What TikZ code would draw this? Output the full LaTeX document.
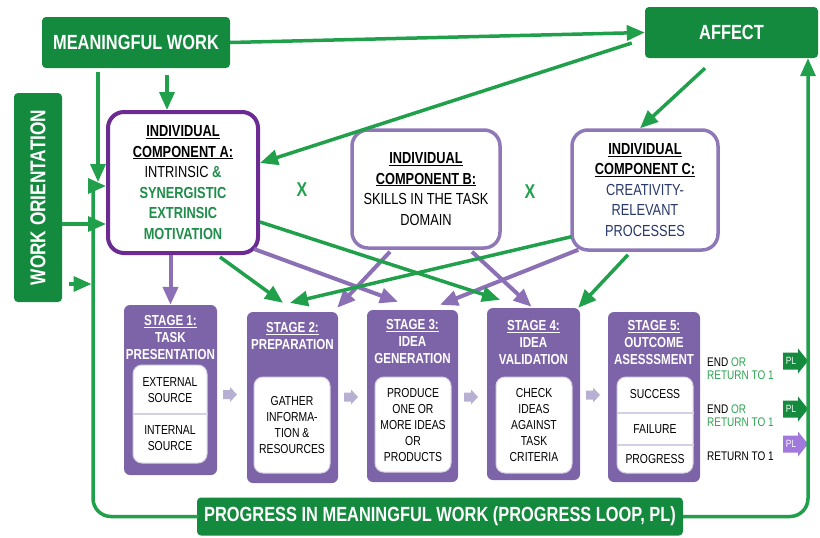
\documentclass[tikz,border=0pt]{standalone}
\usepackage{fontspec}
\setmainfont{Liberation Sans}[FakeStretch=0.8]
\usetikzlibrary{arrows.meta,calc}
\definecolor{dkgreen}{HTML}{148A3E}
\definecolor{lngreen}{HTML}{21A04B}
\definecolor{stpurple}{HTML}{7D64A8}
\definecolor{arrpurple}{HTML}{8B70B5}
\definecolor{apurple}{HTML}{6B2B93}
\definecolor{bpurple}{HTML}{8F78B8}
\definecolor{ltarrow}{HTML}{B8B0D2}
\definecolor{navy}{HTML}{27386A}
\definecolor{txgreen}{HTML}{1F8E4A}
\definecolor{rgreen}{HTML}{2EA552}
\definecolor{plpurple}{HTML}{A178DC}
\definecolor{divcol}{HTML}{D6D0E4}
\newcommand\ulx[1]{\leavevmode\setbox0=\hbox{#1}\rlap{\rule[-2.2pt]{\wd0}{1.1pt}}\box0}
\begin{document}
\begin{tikzpicture}[x=1pt,y=-1pt,
  gbox/.style={fill=dkgreen, rounded corners=4pt, text=white, inner sep=0pt,
    font=\bfseries\fontsize{20.5}{22}\selectfont},
  comp/.style={fill=white, rounded corners=16pt, align=center, inner sep=0pt,
    font=\fontsize{16}{20.5}\selectfont},
  stagebox/.style={fill=stpurple, rounded corners=6pt, inner sep=0pt},
  sttitle/.style={text=white, align=center, inner sep=0pt, font=\bfseries\fontsize{14.5}{17}\selectfont},
  innerbox/.style={fill=white, draw=divcol, line width=1pt, rounded corners=9pt, inner sep=0pt},
  intext/.style={align=center, inner sep=0pt, font=\fontsize{13}{16}\selectfont},
  rtext/.style={align=left, inner sep=0pt, anchor=west, font=\fontsize{12.5}{13.5}\selectfont},
  divider/.style={draw=divcol, line width=2.5pt},
  pltext/.style={text=white, inner sep=0pt, font=\fontsize{10.5}{10.5}\selectfont},
  gline/.style={draw=lngreen, line width=3.5pt, line cap=rect},
  garrow/.style={draw=lngreen, line width=3.5pt, -{Triangle[length=18pt,width=15pt]}},
  parrow/.style={draw=arrpurple, line width=4pt, -{Triangle[length=18pt,width=15pt]}},
  xmark/.style={text=lngreen, font=\bfseries\fontsize{20}{20}\selectfont}
]
\useasboundingbox (0,0) rectangle (820,538);

% top green boxes
\node[gbox, minimum width=188, minimum height=51] (mw) at (136,42.5) {MEANINGFUL WORK};
\node[gbox, minimum width=173, minimum height=51] (affect) at (731.5,32.5) {AFFECT};
\node[gbox, minimum width=48, minimum height=209, font=\bfseries\fontsize{21.5}{22}\selectfont] (wo) at (38,197.5) {\rotatebox{90}{WORK ORIENTATION}};
\node[gbox, minimum width=486, minimum height=38] (prog) at (440,516.5) {PROGRESS IN MEANINGFUL WORK (PROGRESS LOOP, PL)};

% components
\node[comp, draw=apurple, line width=4pt, minimum width=150, minimum height=141] (compA) at (183,182.5)
  {\textbf{\ulx{INDIVIDUAL}}\\\textbf{\ulx{COMPONENT A:}}\\INTRINSIC \textcolor{txgreen}{\textbf{\&}}\\
   \textcolor{txgreen}{\textbf{SYNERGISTIC}}\\\textcolor{txgreen}{\textbf{EXTRINSIC}}\\\textcolor{txgreen}{\textbf{MOTIVATION}}};
\node[comp, draw=bpurple, line width=3.5pt, minimum width=148, minimum height=118] (compB) at (426,189)
  {\textbf{\ulx{INDIVIDUAL}}\\\textbf{\ulx{COMPONENT B:}}\\SKILLS IN THE TASK\\DOMAIN};
\node[comp, draw=bpurple, line width=3.5pt, minimum width=146, minimum height=120] (compC) at (645,190)
  {\textbf{\ulx{INDIVIDUAL}}\\\textbf{\ulx{COMPONENT C:}}\\\textcolor{navy}{CREATIVITY-}\\\textcolor{navy}{RELEVANT}\\\textcolor{navy}{PROCESSES}};
\node[xmark] (x1) at (302,190) {X};
\node[xmark] (x2) at (530,192) {X};

% stages
\node[stagebox, minimum width=93, minimum height=170] (s1) at (170.5,390) {};
\node[stagebox, minimum width=91, minimum height=171] (s2) at (292.5,397.5) {};
\node[stagebox, minimum width=91, minimum height=172] (s3) at (412.5,396) {};
\node[stagebox, minimum width=93, minimum height=172] (s4) at (533.5,394) {};
\node[stagebox, minimum width=92, minimum height=170] (s5) at (654,397) {};

\node[sttitle] (t1) at (170.5,338) {\ulx{STAGE 1:}\\TASK\\PRESENTATION};
\node[sttitle] (t2) at (292.5,336.5) {\ulx{STAGE 2:}\\PREPARATION};
\node[sttitle] (t3) at (412.5,342) {\ulx{STAGE 3:}\\IDEA\\GENERATION};
\node[sttitle] (t4) at (533.5,342.5) {\ulx{STAGE 4:}\\IDEA\\VALIDATION};
\node[sttitle] (t5) at (654,342.5) {\ulx{STAGE 5:}\\OUTCOME\\ASESSSMENT};

\node[innerbox, minimum width=74, minimum height=98] (i1) at (170,414) {};
\node[innerbox, minimum width=76, minimum height=96] (i2) at (292,425) {};
\node[innerbox, minimum width=76, minimum height=95] (i3) at (413,424.5) {};
\node[innerbox, minimum width=76, minimum height=96] (i4) at (534,425) {};
\node[innerbox, minimum width=76, minimum height=96] (i5) at (655,425) {};
\draw[divider] (i1.west |- 0,414) -- (i1.east |- 0,414);
\draw[divider] (i5.west |- 0,413) -- (i5.east |- 0,413);
\draw[divider] (i5.west |- 0,445) -- (i5.east |- 0,445);

\node[intext] (e1) at (170,390.5) {EXTERNAL\\SOURCE};
\node[intext] (e2) at (170,438) {INTERNAL\\SOURCE};
\node[intext] (e3) at (292,425.5) {GATHER\\INFORMA-\\TION \&\\RESOURCES};
\node[intext] (e4) at (413,425) {PRODUCE\\ONE OR\\MORE IDEAS\\OR\\PRODUCTS};
\node[intext] (e5) at (534,425) {CHECK\\IDEAS\\AGAINST\\TASK\\CRITERIA};
\node[intext] (e6) at (655,394) {SUCCESS};
\node[intext] (e7) at (655,429) {FAILURE};
\node[intext] (e8) at (655,459) {PROGRESS};

% small block arrows between stages
\foreach \cx/\cy in {230/394.5, 351/397, 471/397, 593/395}
  \fill[ltarrow, shift={(\cx,\cy)}] (-7,-4.5) -- (0,-4.5) -- (0,-7.5) -- (7,0) -- (0,7.5) -- (0,4.5) -- (-7,4.5) -- cycle;

% right side
\node[rtext] (r1) at (707,368.5) {END \textcolor{rgreen}{OR}\\\textcolor{rgreen}{RETURN TO 1}};
\node[rtext] (r2) at (707,415.5) {END \textcolor{rgreen}{OR}\\\textcolor{rgreen}{RETURN TO 1}};
\node[rtext] (r3) at (707,456) {RETURN TO 1};
\foreach \cy/\col in {361/dkgreen, 409/dkgreen, 444/plpurple}
  \fill[\col, shift={(783,\cy)}] (0,-8.5) -- (15,-8.5) -- (15,-12.5) -- (25,0) -- (15,12.5) -- (15,8.5) -- (0,8.5) -- cycle;
\node[pltext] (pl1) at (791,361) {PL};
\node[pltext] (pl2) at (791,409) {PL};
\node[pltext] (pl3) at (791,444) {PL};

% connectors: top
\draw[garrow] (mw.east) -- (affect.west);
\draw[garrow, shorten <=7pt] ($(mw.south)+(31,0)$) -- ($(compA.north)+(-16,0)$);
\coordinate (mwtip) at (98,182);
\draw[garrow, shorten <=4pt] (mw.south -| mwtip) -- (mwtip);
\coordinate (loopTL) at (93,186);
\draw[gline, rounded corners=18pt] (prog.west) -| (loopTL);
\draw[garrow] (loopTL) -- (loopTL -| compA.west);
\draw[garrow, rounded corners=18pt] (prog.east) -| ($(affect.south)+(76.5,0)$);
\coordinate (wo1) at ($(wo.east)+(0,26.5)$);
\draw[garrow] (wo1) -- (wo1 -| compA.west);
\coordinate (wo2) at ($(wo.east)+(7,86.5)$);
\draw[garrow, shorten >=1.5pt] (wo2) -- (wo2 -| loopTL);
\draw[garrow] ($(affect.west)+(-13,10.5)$) -- ($(compA.east)+(0,-19.5)$);
\draw[garrow] ($(affect.south)+(-26.5,10)$) -- ($(compC.north)+(-5,0)$);

% connectors: components to stages
\draw[parrow] (s1.north |- compA.south) -- (s1.north);
\draw[parrow] ($(compA.south east)+(-6,-6)$) -- ($(s3.north)+(-14.5,-8)$);
\draw[parrow] ($(compB.south)+(-36,2)$) -- ($(s2.north east)+(-1,-4)$);
\draw[parrow] ($(compB.south)+(46,2)$) -- ($(s4.north)+(-2,-1)$);
\draw[parrow] ($(compC.south west)+(8,-2)$) -- ($(s3.north)+(27.5,-5)$);
\draw[garrow] ($(compA.south)+(37,2)$) -- ($(s2.north)+(-9.5,-9)$);
\draw[garrow] ($(compA.east)+(0,39.5)$) -- ($(s4.north)+(-33.5,-8)$);
\draw[garrow] ($(compC.south west)+(1,-15)$) -- ($(s2.north)+(-2.5,-9)$);
\draw[garrow] ($(compC.south)+(-17,3)$) -- ($(s4.north east)+(-2,0)$);
\end{tikzpicture}
\end{document}
